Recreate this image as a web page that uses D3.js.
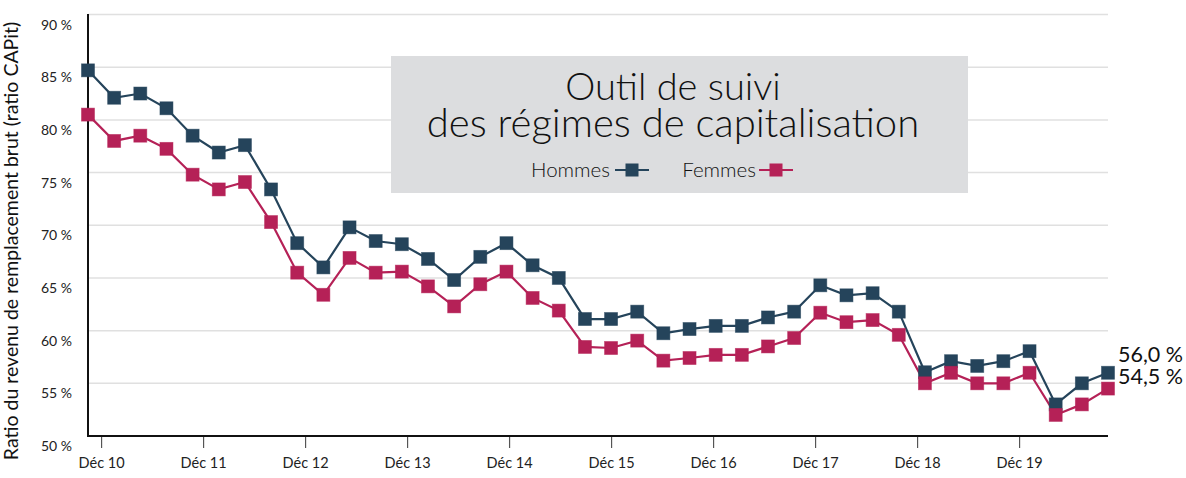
<!DOCTYPE html>
<html><head><meta charset="utf-8">
<script src="https://cdn.jsdelivr.net/npm/d3@7"></script>
<style>
html,body{margin:0;padding:0;background:#fff;}
svg{display:block;}
text{font-family:Lato,"Open Sans",sans-serif;}
</style></head>
<body>
<svg id="chart" width="1186" height="478"></svg>
<script>
// ---- data ----
const hommes = [84.7, 82.1, 82.5, 81.1, 78.5, 76.9, 77.6, 73.4, 68.3, 66.0,
                69.8, 68.5, 68.2, 66.8, 64.8, 67.0, 68.3, 66.2, 65.0, 61.1,
                61.1, 61.8, 59.75, 60.15, 60.45, 60.45, 61.25, 61.8, 64.3, 63.35,
                63.55, 61.8, 56.05, 57.1, 56.65, 57.1, 58.05, 53.0, 55.0, 56.0];
const femmes = [80.5, 78.0, 78.5, 77.25, 74.8, 73.4, 74.1, 70.3, 65.5, 63.4,
                66.9, 65.5, 65.6, 64.2, 62.3, 64.4, 65.6, 63.1, 61.9, 58.45,
                58.35, 59.05, 57.15, 57.4, 57.7, 57.7, 58.5, 59.3, 61.7, 60.8,
                61.0, 59.6, 55.0, 56.0, 55.0, 55.0, 56.0, 52.0, 53.0, 54.5];
const xTickLabels = ["Déc 10","Déc 11","Déc 12","Déc 13","Déc 14","Déc 15","Déc 16","Déc 17","Déc 18","Déc 19"];
const xTickIndex = [0.5, 4.4, 8.3, 12.2, 16.1, 20.0, 23.9, 27.8, 31.7, 35.6];
const yTicks = [50, 55, 60, 65, 70, 75, 80, 85, 90];
const endLabels = ["56,0 %", "54,5 %"];
const seriesNames = ["Hommes", "Femmes"];
const colors = ["#25445b", "#b52157"];

// ---- layout ----
const svg = d3.select("#chart");
const x = d3.scaleLinear().domain([0, hommes.length - 1]).range([88, 1108]);
const y = d3.scaleLinear().domain([50, 90]).range([436, 14.5]);

// gridlines
svg.append("g").selectAll("line").data(yTicks.filter(d => d > 50)).join("line")
  .attr("x1", 88).attr("x2", 1108)
  .attr("y1", d => y(d)).attr("y2", d => y(d))
  .attr("stroke", "#e0e0e0").attr("stroke-width", 1.5);

// y labels (placed below their gridline)
svg.append("g").selectAll("text").data(yTicks).join("text")
  .attr("x", 72).attr("y", d => y(d) + 15)
  .attr("text-anchor", "end")
  .attr("font-size", 14).attr("fill", "#222")
  .text(d => d + " %");

// legend box
svg.append("rect").attr("x", 391).attr("y", 56).attr("width", 577).attr("height", 137)
  .attr("fill", "#dcdddf");
svg.append("text").attr("x", 673).attr("y", 100).attr("text-anchor", "middle")
  .attr("font-size", 38).attr("font-weight", 300).attr("fill", "#111")
  .text("Outil de suivi");
svg.append("text").attr("x", 673).attr("y", 137).attr("text-anchor", "middle")
  .attr("font-size", 40).attr("font-weight", 300).attr("fill", "#111")
  .text("des régimes de capitalisation");

const legendItems = [
  {name: seriesNames[0], tx: 610, mx: 632, c: colors[0]},
  {name: seriesNames[1], tx: 756, mx: 776, c: colors[1]}
];
const lg = svg.append("g").selectAll("g").data(legendItems).join("g");
lg.append("text").attr("x", d => d.tx).attr("y", 177).attr("text-anchor", "end")
  .attr("font-size", 20.5).attr("font-weight", 300).attr("fill", "#111").text(d => d.name);
lg.append("line").attr("x1", d => d.mx - 17).attr("x2", d => d.mx + 17)
  .attr("y1", 170).attr("y2", 170).attr("stroke", d => d.c).attr("stroke-width", 2);
lg.append("rect").attr("x", d => d.mx - 6.5).attr("y", 163.5).attr("width", 13).attr("height", 13)
  .attr("fill", d => d.c);

// axes lines
svg.append("line").attr("x1", 88).attr("x2", 88).attr("y1", 14).attr("y2", 437)
  .attr("stroke", "#111").attr("stroke-width", 2);
const xAxis = d3.axisBottom(x).tickValues(xTickIndex)
  .tickFormat((d, i) => xTickLabels[i]).tickSize(11).tickPadding(10);
const xg = svg.append("g").attr("transform", "translate(0,437)").call(xAxis);
xg.select(".domain").remove();
xg.selectAll(".tick line").attr("stroke", "#555").attr("stroke-width", 1.2);
xg.selectAll(".tick text").attr("font-size", 14.5).attr("fill", "#222")
  .attr("font-family", "Lato, sans-serif");
svg.append("line").attr("x1", 87).attr("x2", 1108).attr("y1", 436).attr("y2", 436)
  .attr("stroke", "#111").attr("stroke-width", 2.2);

// series
const series = [hommes, femmes];
const line = d3.line().x((d, i) => x(i)).y(d => y(d));
series.forEach((s, k) => {
  svg.append("path").datum(s).attr("d", line)
    .attr("fill", "none").attr("stroke", colors[k]).attr("stroke-width", 2.2);
});
series.forEach((s, k) => {
  svg.append("g").selectAll("rect").data(s).join("rect")
    .attr("x", (d, i) => x(i) - 6.5).attr("y", d => y(d) - 6.5)
    .attr("width", 13).attr("height", 13)
    .attr("fill", colors[k]).attr("stroke", colors[k]).attr("stroke-opacity", 0.6).attr("stroke-width", 0.8);
});

// end labels
svg.append("text").attr("x", 1118).attr("y", 362).attr("font-size", 21.5)
  .attr("fill", "#111").text(endLabels[0]);
svg.append("text").attr("x", 1118).attr("y", 384).attr("font-size", 21.5)
  .attr("fill", "#111").text(endLabels[1]);

// y axis title
svg.append("text").attr("transform", "translate(18,241) rotate(-90)")
  .attr("text-anchor", "middle").attr("font-size", 19.5).attr("fill", "#111")
  .text("Ratio du revenu de remplacement brut (ratio CAPit)");
</script>
</body></html>
